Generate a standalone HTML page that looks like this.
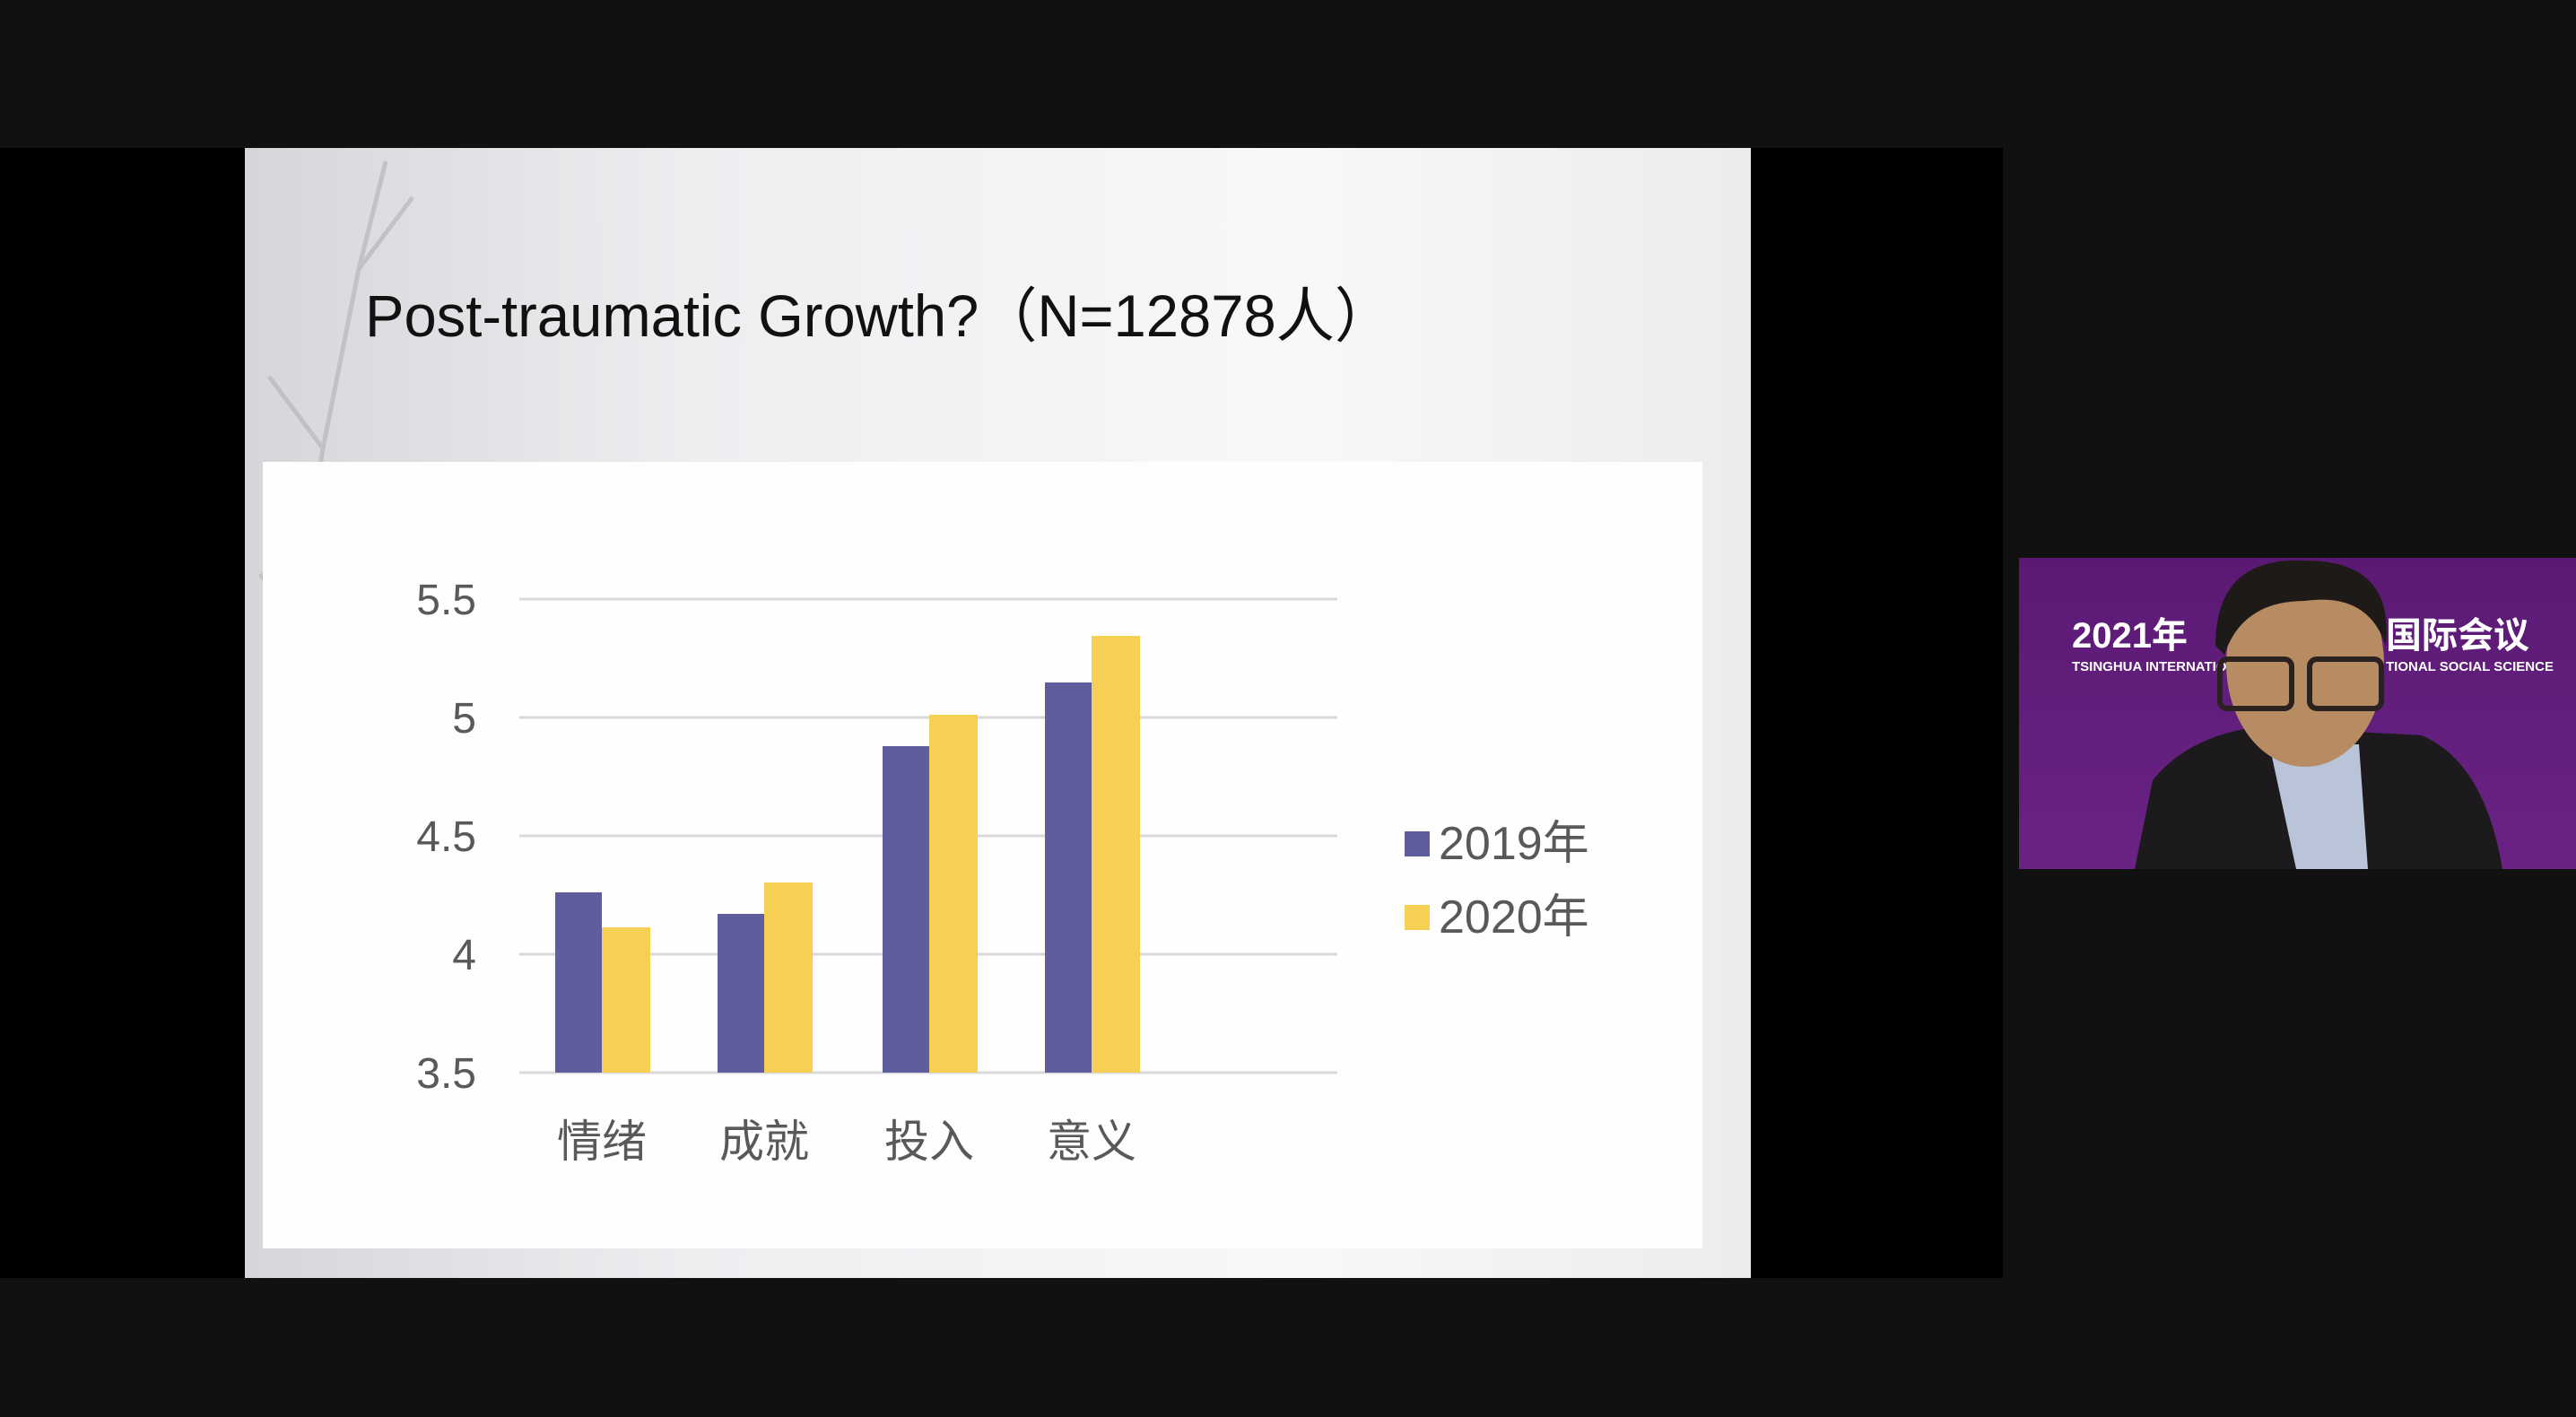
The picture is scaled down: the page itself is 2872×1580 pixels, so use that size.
<!DOCTYPE html>
<html><head><meta charset="utf-8"><style>
html,body{margin:0;padding:0;background:#111;}
svg{display:block}
</style></head><body>
<svg width="2872" height="1580" viewBox="0 0 2872 1580" xmlns="http://www.w3.org/2000/svg">
<defs>
<linearGradient id="sl" x1="0" y1="0" x2="1" y2="0">
<stop offset="0" stop-color="#d6d6da"/><stop offset="0.3" stop-color="#eeeef1"/><stop offset="0.7" stop-color="#f8f8f8"/><stop offset="1" stop-color="#ececec"/>
</linearGradient>
<linearGradient id="pp" x1="0" y1="0" x2="0" y2="1">
<stop offset="0" stop-color="#5a1a74"/><stop offset="1" stop-color="#6a2384"/>
</linearGradient>
</defs>
<rect width="2872" height="1580" fill="#111"/>
<rect x="0" y="165" width="2233" height="1260" fill="#000"/>
<rect x="273" y="165" width="1679" height="1260" fill="url(#sl)"/>
<g stroke="#b8b8bc" stroke-width="5" fill="none" opacity="0.7">
<path d="M300 1100 L330 700 L360 500 L400 300 L430 180"/>
<path d="M360 500 L300 420"/><path d="M400 300 L460 220"/><path d="M330 700 L290 640"/>
</g>
<text x="407" y="375" font-family="'Liberation Sans','Noto Sans CJK SC',sans-serif" font-size="66" fill="#111" textLength="1146" lengthAdjust="spacingAndGlyphs">Post-traumatic Growth?（N=12878人）</text>
<rect x="293" y="515" width="1605" height="877" fill="#fefefe"/>
<g stroke="#d9d9d9" stroke-width="3">
<line x1="579" y1="668" x2="1491" y2="668"/><line x1="579" y1="800" x2="1491" y2="800"/>
<line x1="579" y1="932" x2="1491" y2="932"/><line x1="579" y1="1064" x2="1491" y2="1064"/>
<line x1="579" y1="1196" x2="1491" y2="1196"/>
</g>
<g font-family="'Liberation Sans',sans-serif" font-size="48" fill="#595959" text-anchor="end">
<text x="531" y="685">5.5</text><text x="531" y="817">5</text><text x="531" y="949">4.5</text><text x="531" y="1081">4</text><text x="531" y="1213">3.5</text>
</g>
<g fill="#5e5e9e">
<rect x="619" y="995" width="52" height="201"/>
<rect x="800" y="1019" width="52" height="177"/>
<rect x="984" y="832" width="52" height="364"/>
<rect x="1165" y="761" width="52" height="435"/>
</g>
<g fill="#f6cf55">
<rect x="671" y="1034" width="54" height="162"/>
<rect x="852" y="984" width="54" height="212"/>
<rect x="1036" y="797" width="54" height="399"/>
<rect x="1217" y="709" width="54" height="487"/>
</g>
<g font-family="'Liberation Sans','Noto Sans CJK SC',sans-serif" font-size="50" fill="#595959" text-anchor="middle">
<text x="671" y="1290">情绪</text><text x="852" y="1290">成就</text><text x="1036" y="1290">投入</text><text x="1217" y="1290">意义</text>
</g>
<rect x="1566" y="927" width="28" height="28" fill="#5e5e9e"/>
<rect x="1566" y="1009" width="28" height="28" fill="#f6cf55"/>
<g font-family="'Liberation Sans','Noto Sans CJK SC',sans-serif" font-size="52" fill="#595959">
<text x="1604" y="958">2019年</text><text x="1604" y="1040">2020年</text>
</g>
<rect x="2251" y="622" width="621" height="347" fill="url(#pp)"/>
<g font-family="'Liberation Sans','Noto Sans CJK SC',sans-serif" fill="#fff" font-weight="bold">
<text x="2310" y="722" font-size="40">2021年</text><text x="2660" y="722" font-size="40">国际会议</text>
<text x="2310" y="748" font-size="15">TSINGHUA INTERNATIO</text><text x="2660" y="748" font-size="15">TIONAL SOCIAL SCIENCE</text>
</g>
<path d="M2380 969 L2400 870 Q2440 820 2520 810 L2700 820 Q2770 850 2790 969 Z" fill="#1c1a1c"/>
<path d="M2530 830 L2560 969 L2640 969 L2630 830 Z" fill="#b9c4d8"/>
<ellipse cx="2570" cy="740" rx="88" ry="115" fill="#b88c63"/>
<path d="M2470 720 Q2470 620 2570 625 Q2670 625 2660 720 Q2640 660 2570 670 Q2500 670 2480 730 Z" fill="#1e1a18"/>
<g stroke="#2a2220" stroke-width="6" fill="none">
<rect x="2475" y="735" width="80" height="55" rx="8"/><rect x="2575" y="735" width="80" height="55" rx="8"/>
</g>
</svg>
</body></html>
